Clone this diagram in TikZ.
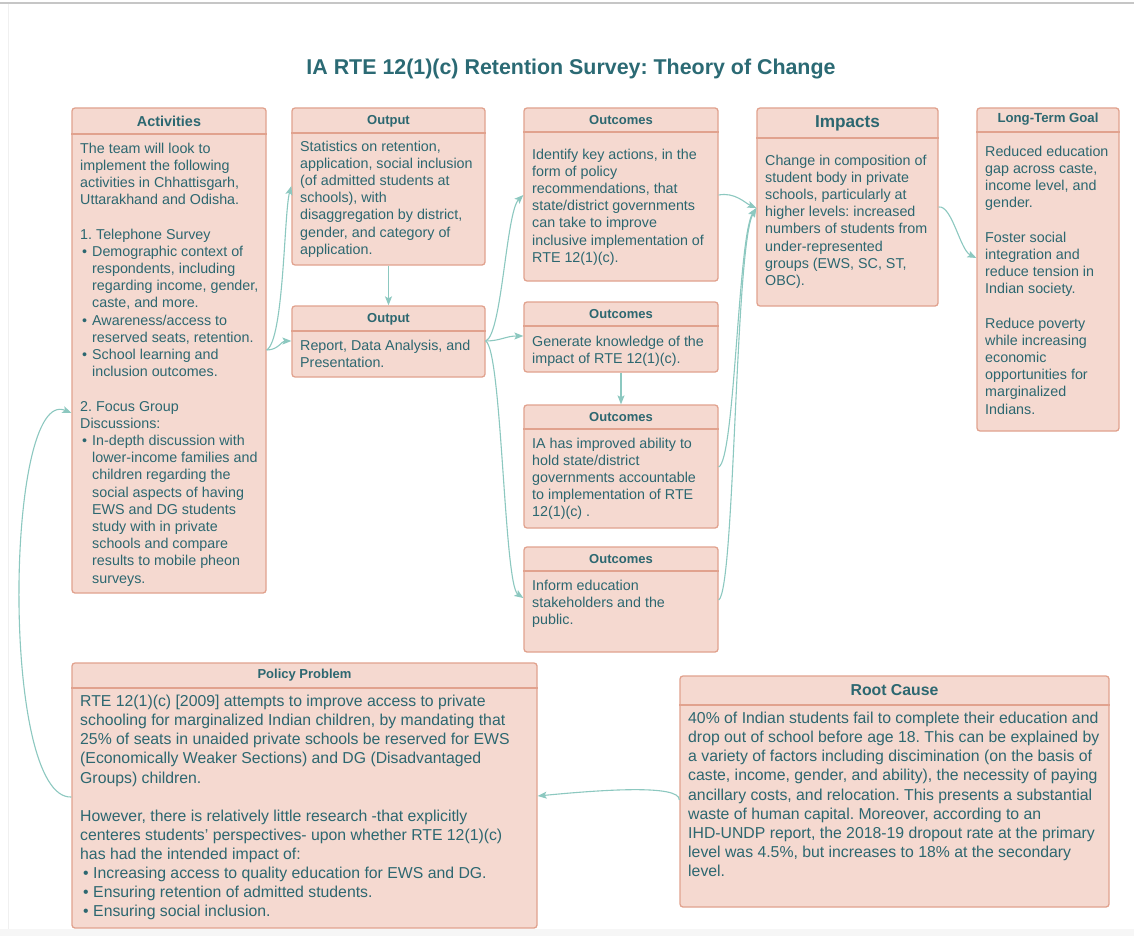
\documentclass[tikz,border=0pt]{standalone}
\usepackage{fontspec}
\setmainfont{Liberation Sans}
\usetikzlibrary{arrows.meta,fit}
\definecolor{boxfill}{HTML}{F5D9D0}
\definecolor{boxborder}{HTML}{E1A28E}
\definecolor{txt}{HTML}{2C6770}
\definecolor{titlec}{HTML}{2B6A74}
\definecolor{arrowc}{HTML}{8CC8C0}
\tikzset{
  box/.style={draw=boxborder, fill=boxfill, rounded corners=3pt, line width=1.3pt, inner sep=0pt},
  sepline/.style={draw=boxborder, line width=1.3pt},
  hdr/.style={text=txt, inner sep=0pt, font=\bfseries\fontsize{13}{15}\selectfont},
  body/.style={anchor=north west, inner sep=0pt, align=left, text=txt, font=\fontsize{14.3}{17.2}\selectfont},
  bigbody/.style={body, font=\fontsize{15.8}{19.1}\selectfont},
  conn/.style={draw=arrowc, line width=1.1pt, -{Stealth[length=9pt,width=7pt,inset=2pt]}},
}
\newcommand{\bul}{\hspace*{2pt}\textbullet\hspace{5pt}}
\newcommand{\cont}{\hspace*{12pt}}
\newcommand{\bigbul}{\hspace*{3pt}\textbullet\hspace{4.5pt}}
\frenchspacing
\begin{document}
\begin{tikzpicture}[x=1pt,y=-1pt]
\useasboundingbox (0,0) rectangle (1134,936);
\fill[white] (0,0) rectangle (1134,936);
\fill[gray!7] (0,929) rectangle (1134,936);
\draw[gray!45, line width=1.5pt] (0,3) -- (1134,3);
\draw[gray!12, line width=1pt] (8,4) -- (8,929);

\node[text=titlec, font=\bfseries\fontsize{21.4}{24}\selectfont] (title) at (571,69) {IA RTE 12(1)(c) Retention Survey: Theory of Change};

% Activities
\node[box, fit={(72,108) (266,593)}] (act) {};
\draw[sepline] (act.west |- 0,134) -- (act.east |- 0,134);
\node[hdr, font=\bfseries\fontsize{14.4}{16}\selectfont] (act-t) at (act.north |- 0,121.5) {Activities};
\node[body] (act-b) at (80,142.5) {The team will look to\\
implement the following\\
activities in Chhattisgarh,\\
Uttarakhand and Odisha.\\[17.2pt]
1. Telephone Survey\\
\bul Demographic context of\\
\cont respondents, including\\
\cont regarding income, gender,\\
\cont caste, and more.\\
\bul Awareness/access to\\
\cont reserved seats, retention.\\
\bul School learning and\\
\cont inclusion outcomes.\\[17.2pt]
2. Focus Group\\
Discussions:\\
\bul In-depth discussion with\\
\cont lower-income families and\\
\cont children regarding the\\
\cont social aspects of having\\
\cont EWS and DG students\\
\cont study with in private\\
\cont schools and compare\\
\cont results to mobile pheon\\
\cont surveys.};

% Output 1
\node[box, fit={(292,108) (485,265)}] (out1) {};
\draw[sepline] (out1.west |- 0,133) -- (out1.east |- 0,133);
\node[hdr] (out1-t) at (out1.north |- 0,121.5) {Output};
\node[body] (out1-b) at (300,140.5) {Statistics on retention,\\
application, social inclusion\\
(of admitted students at\\
schools), with\\
disaggregation by district,\\
gender, and category of\\
application.};

% Output 2
\node[box, fit={(292,306) (485,377)}] (out2) {};
\draw[sepline] (out2.west |- 0,331) -- (out2.east |- 0,331);
\node[hdr] (out2-t) at (out2.north |- 0,319.5) {Output};
\node[body] (out2-b) at (300,339.5) {Report, Data Analysis, and\\
Presentation.};

% Outcomes 1
\node[box, fit={(524,108) (718,281)}] (oc1) {};
\draw[sepline] (oc1.west |- 0,132) -- (oc1.east |- 0,132);
\node[hdr] (oc1-t) at (oc1.north |- 0,120.5) {Outcomes};
\node[body] (oc1-b) at (532,148.5) {Identify key actions, in the\\
form of policy\\
recommendations, that\\
state/district governments\\
can take to improve\\
inclusive implementation of\\
RTE 12(1)(c).};

% Outcomes 2
\node[box, fit={(524,302) (718,372)}] (oc2) {};
\draw[sepline] (oc2.west |- 0,326) -- (oc2.east |- 0,326);
\node[hdr] (oc2-t) at (oc2.north |- 0,314.5) {Outcomes};
\node[body] (oc2-b) at (532,335.5) {Generate knowledge of the\\
impact of RTE 12(1)(c).};

% Outcomes 3
\node[box, fit={(524,405) (718,528)}] (oc3) {};
\draw[sepline] (oc3.west |- 0,429) -- (oc3.east |- 0,429);
\node[hdr] (oc3-t) at (oc3.north |- 0,417.5) {Outcomes};
\node[body] (oc3-b) at (532,437.5) {IA has improved ability to\\
hold state/district\\
governments accountable\\
to implementation of RTE\\
12(1)(c) .};

% Outcomes 4
\node[box, fit={(524,547) (718,652)}] (oc4) {};
\draw[sepline] (oc4.west |- 0,571) -- (oc4.east |- 0,571);
\node[hdr] (oc4-t) at (oc4.north |- 0,559.5) {Outcomes};
\node[body] (oc4-b) at (532,579.5) {Inform education\\
stakeholders and the\\
public.};

% Impacts
\node[box, fit={(757,108) (938,306)}] (imp) {};
\draw[sepline] (imp.west |- 0,138) -- (imp.east |- 0,138);
\node[hdr, font=\bfseries\fontsize{17.2}{19}\selectfont] (imp-t) at (imp.north |- 0,123) {Impacts};
\node[body] (imp-b) at (765,154.5) {Change in composition of\\
student body in private\\
schools, particularly at\\
higher levels: increased\\
numbers of students from\\
under-represented\\
groups (EWS, SC, ST,\\
OBC).};

% Long-Term Goal
\node[box, fit={(977,108) (1119,431)}] (ltg) {};
\draw[sepline] (ltg.west |- 0,132) -- (ltg.east |- 0,132);
\node[hdr, font=\bfseries\fontsize{13.2}{15}\selectfont] (ltg-t) at (ltg.north |- 0,119.5) {Long-Term Goal};
\node[body] (ltg-b) at (985,145.5) {Reduced education\\
gap across caste,\\
income level, and\\
gender.\\[17.2pt]
Foster social\\
integration and\\
reduce tension in\\
Indian society.\\[17.2pt]
Reduce poverty\\
while increasing\\
economic\\
opportunities for\\
marginalized\\
Indians.};

% Policy Problem
\node[box, fit={(72,663) (537,928)}] (pp) {};
\draw[sepline] (pp.west |- 0,688) -- (pp.east |- 0,688);
\node[hdr] (pp-t) at (pp.north |- 0,675.5) {Policy Problem};
\node[bigbody] (pp-b) at (80,695) {RTE 12(1)(c) [2009] attempts to improve access to private\\
schooling for marginalized Indian children, by mandating that\\
25\% of seats in unaided private schools be reserved for EWS\\
(Economically Weaker Sections) and DG (Disadvantaged\\
Groups) children.\\[19.1pt]
However, there is relatively little research -that explicitly\\
centeres students' perspectives- upon whether RTE 12(1)(c)\\
has had the intended impact of:\\
\bigbul Increasing access to quality education for EWS and DG.\\
\bigbul Ensuring retention of admitted students.\\
\bigbul Ensuring social inclusion.};

% Root Cause
\node[box, fit={(680,676) (1109,907)}] (rc) {};
\draw[sepline] (rc.west |- 0,705) -- (rc.east |- 0,705);
\node[hdr, font=\bfseries\fontsize{15.8}{18}\selectfont] (rc-t) at (rc.north |- 0,690.5) {Root Cause};
\node[bigbody] (rc-b) at (688,712) {40\% of Indian students fail to complete their education and\\
drop out of school before age 18. This can be explained by\\
a variety of factors including discimination (on the basis of\\
caste, income, gender, and ability), the necessity of paying\\
ancillary costs, and relocation. This presents a substantial\\
waste of human capital. Moreover, according to an\\
IHD-UNDP report, the 2018-19 dropout rate at the primary\\
level was 4.5\%, but increases to 18\% at the secondary\\
level.};

% Connectors
\draw[conn] (act.east |- 0,350) .. controls (284,340) and (284,212) .. (out1.west |- 0,186);
\draw[conn] (act.east |- 0,350) .. controls (278,350) and (282,341) .. (out2.west |- 0,341);
\draw[conn] (out1.south) -- (out2.north);
\draw[conn] (out2.east |- 0,341) .. controls (502,335) and (506,212) .. (oc1.west |- 0,195);
\draw[conn] (out2.east |- 0,341) .. controls (500,341) and (506,336) .. (oc2.west |- 0,336);
\draw[conn] (out2.east |- 0,341) .. controls (502,350) and (504,585) .. (oc4.west |- 0,598);
\draw[conn] (oc2.south) -- (oc3.north);
\draw[conn] (oc1.east |- 0,195) .. controls (735,192) and (745,203) .. (imp.west |- 0,208);
\draw[conn] (oc3.east |- 0,467) .. controls (735,460) and (738,235) .. (imp.west |- 0,208);
\draw[conn] (oc4.east |- 0,600) .. controls (735,590) and (735,245) .. (imp.west |- 0,208);
\draw[conn] (imp.east |- 0,207) .. controls (952,205) and (960,250) .. (ltg.west |- 0,258);
\draw[conn] (rc.west |- 0,800) .. controls (680,784) and (600,790) .. (pp.east |- 0,796);
\draw[conn] (pp.west |- 0,797) .. controls (0,800) and (5,385) .. (act.west |- 0,413);
\end{tikzpicture}
\end{document}
